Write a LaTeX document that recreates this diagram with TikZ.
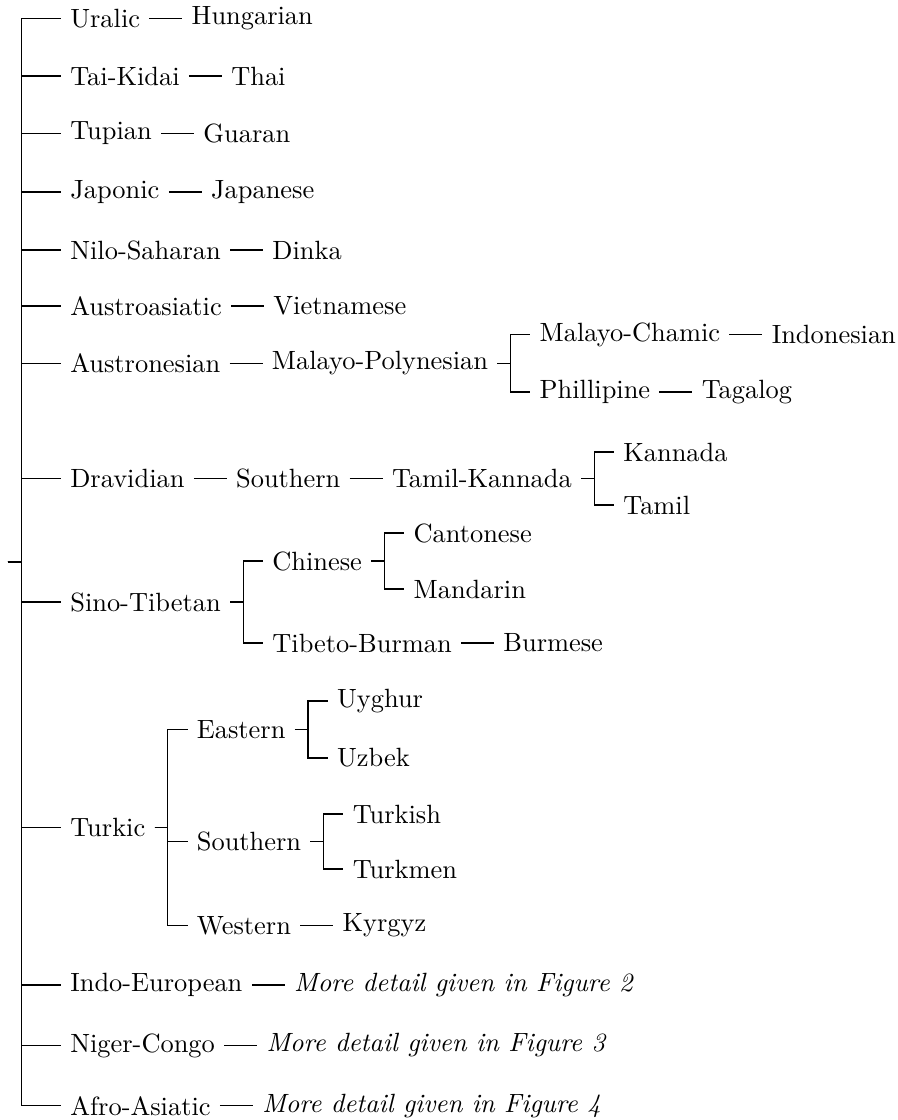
\documentclass[tikz,border=0pt]{standalone}
\usetikzlibrary{positioning}

\tikzset{
  lang/.style={anchor=west},
  link/.style={line width=0.4pt},
}

\begin{document}
\begin{tikzpicture}[x=0.3788pt, y=-0.3788pt]
\useasboundingbox (0,0) rectangle (898,1120);

% first level
\node[inner sep=0pt] (root) at (6,562) {};
\node[lang] (uralic) at (61,18.3) {Uralic};
\node[lang] (taikidai) at (61,76) {Tai-Kidai};
\node[lang] (tupian) at (61,133.3) {Tupian};
\node[lang] (japonic) at (61,192) {Japonic};
\node[lang] (nilo) at (61,250) {Nilo-Saharan};
\node[lang] (austroasiatic) at (61,306) {Austroasiatic};
\node[lang] (austronesian) at (61,363.3) {Austronesian};
\node[lang] (dravidian) at (61,478.5) {Dravidian};
\node[lang] (sino) at (61,602) {Sino-Tibetan};
\node[lang] (turkic) at (61,827.5) {Turkic};
\node[lang] (indoeuro) at (61,985) {Indo-European};
\node[lang] (niger) at (61,1045.5) {Niger-Congo};
\node[lang] (afro) at (61,1105.7) {Afro-Asiatic};

% single branches
\node[right=12.5pt of uralic] (hungarian) {Hungarian};
\node[right=12.5pt of taikidai] (thai) {Thai};
\node[right=12.5pt of tupian] (guaran) {Guaran};
\node[right=12.5pt of japonic] (japanese) {Japanese};
\node[right=12.5pt of nilo] (dinka) {Dinka};
\node[right=12.5pt of austroasiatic] (vietnamese) {Vietnamese};
\node[right=12.5pt of indoeuro] (fig2) {\textit{More detail given in Figure 2}};
\node[right=12.5pt of niger] (fig3) {\textit{More detail given in Figure 3}};
\node[right=12.5pt of afro] (fig4) {\textit{More detail given in Figure 4}};

% Austronesian
\node[right=12.5pt of austronesian] (malayopoly) {Malayo-Polynesian};
\node[lang] (malayochamic) at ([xshift=12.5pt]malayopoly.east |- 0,334.5) {Malayo-Chamic};
\node[right=12.5pt of malayochamic] (indonesian) {Indonesian};
\node[lang] (phillipine) at ([xshift=12.5pt]malayopoly.east |- 0,392) {Phillipine};
\node[right=12.5pt of phillipine] (tagalog) {Tagalog};

% Dravidian
\node[right=12.5pt of dravidian] (dsouthern) {Southern};
\node[right=12.5pt of dsouthern] (tamilkannada) {Tamil-Kannada};
\node[lang] (kannada) at ([xshift=12.5pt]tamilkannada.east |- 0,452) {Kannada};
\node[lang] (tamil) at ([xshift=12.5pt]tamilkannada.east |- 0,505) {Tamil};

% Sino-Tibetan
\node[lang] (chinese) at ([xshift=12.5pt]sino.east |- 0,561) {Chinese};
\node[lang] (cantonese) at ([xshift=12.5pt]chinese.east |- 0,533) {Cantonese};
\node[lang] (mandarin) at ([xshift=12.5pt]chinese.east |- 0,589) {Mandarin};
\node[lang] (tibeto) at ([xshift=12.5pt]sino.east |- 0,643) {Tibeto-Burman};
\node[right=12.5pt of tibeto] (burmese) {Burmese};

% Turkic
\node[lang] (eastern) at ([xshift=12.5pt]turkic.east |- 0,729.5) {Eastern};
\node[lang] (uyghur) at ([xshift=12.5pt]eastern.east |- 0,701) {Uyghur};
\node[lang] (uzbek) at ([xshift=12.5pt]eastern.east |- 0,758) {Uzbek};
\node[lang] (tsouthern) at ([xshift=12.5pt]turkic.east |- 0,841.5) {Southern};
\node[lang] (turkish) at ([xshift=12.5pt]tsouthern.east |- 0,814) {Turkish};
\node[lang] (turkmen) at ([xshift=12.5pt]tsouthern.east |- 0,869) {Turkmen};
\node[lang] (western) at ([xshift=12.5pt]turkic.east |- 0,925.5) {Western};
\node[right=12.5pt of western] (kyrgyz) {Kyrgyz};

% edges
\foreach \p/\c in {root/uralic, root/taikidai, root/tupian, root/japonic, root/nilo,
    root/austroasiatic, root/austronesian, root/dravidian, root/sino, root/turkic,
    root/indoeuro, root/niger, root/afro,
    uralic/hungarian, taikidai/thai, tupian/guaran, japonic/japanese, nilo/dinka,
    austroasiatic/vietnamese, indoeuro/fig2, niger/fig3, afro/fig4,
    austronesian/malayopoly, malayopoly/malayochamic, malayopoly/phillipine,
    malayochamic/indonesian, phillipine/tagalog,
    dravidian/dsouthern, dsouthern/tamilkannada, tamilkannada/kannada, tamilkannada/tamil,
    sino/chinese, sino/tibeto, chinese/cantonese, chinese/mandarin, tibeto/burmese,
    turkic/eastern, turkic/tsouthern, turkic/western, eastern/uyghur, eastern/uzbek,
    tsouthern/turkish, tsouthern/turkmen, western/kyrgyz}
  \draw[link] (\p.east) -- ++(5pt,0) |- (\c.west);
\end{tikzpicture}
\end{document}
